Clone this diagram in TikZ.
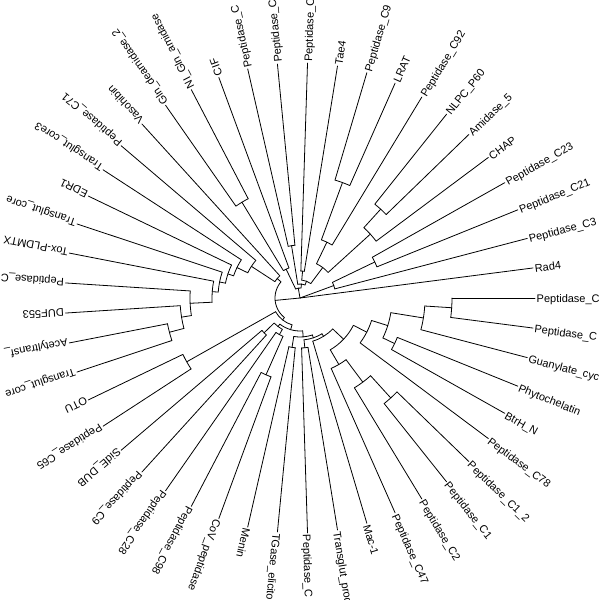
\documentclass[tikz,border=0pt]{standalone}
\usepackage{fontspec}
\setmainfont{Liberation Sans}
\usetikzlibrary{calc}
\newcommand\U{7.3469387755}
\makeatletter
\newcommand\tn[3]{%
  \expandafter\xdef\csname trA@#1\endcsname{#2}%
  \expandafter\xdef\csname trR@#1\endcsname{#3}%
  \coordinate (#1) at ({#2*\U}:#3);}
\newcommand\clade[3]{%
  \pgfmathsetmacro\ca{\csname trA@#2\endcsname*\U}%
  \pgfmathsetmacro\cb{\csname trA@#3\endcsname*\U}%
  \edef\pr{\csname trR@#1\endcsname}%
  \coordinate (#2f) at (\ca:\pr);
  \coordinate (#3f) at (\cb:\pr);
  \draw[branch] (#2f) arc[start angle=\ca, end angle=\cb, radius=\pr];
  \draw[branch] (#2f) -- (#2);
  \draw[branch] (#3f) -- (#3);}
\newcommand\leaf[3]{%
  \tn{#1}{#2}{235}%
  \node[lab, rotate=#2*\U] (#1t) at ($({#2*\U}:236.5)+({#2*\U-90}:4.6)$) {#3};}
\makeatother
\begin{document}
\begin{tikzpicture}[x=1pt,y=1pt,
  branch/.style={line width=0.8pt, line cap=round, line join=round},
  lab/.style={font=\fontsize{11}{13}\selectfont, anchor=base west, inner sep=0pt}]
\useasboundingbox (-300,-302) rectangle (300,298);
\fill[white] (-300,-302) rectangle (300,298);
\clip (-300,-302) rectangle (300,298);
% leaves
\leaf{L0}{49}{Peptidase\_C}
\leaf{L1}{1}{Rad4}
\leaf{L2}{2}{Peptidase\_C3}
\leaf{L3}{3}{Peptidase\_C21}
\leaf{L4}{4}{Peptidase\_C23}
\leaf{L5}{5}{CHAP}
\leaf{L6}{6}{Amidase\_5}
\leaf{L7}{7}{NLPC\_P60}
\leaf{L8}{8}{Peptidase\_C92}
\leaf{L9}{9}{LRAT}
\leaf{L10}{10}{Peptidase\_C9}
\leaf{L11}{11}{Tae4}
\leaf{L12}{12}{Peptidase\_C}
\leaf{L13}{13}{Peptidase\_C}
\leaf{L14}{14}{Peptidase\_C}
\leaf{L15}{15}{CIF}
\leaf{L16}{16}{NI\_Gln\_amidase}
\leaf{L17}{17}{Gln\_deamidase\_2}
\leaf{L18}{18}{Vasohibin}
\leaf{L19}{19}{Peptidase\_C71}
\leaf{L20}{20}{Transglut\_core3}
\leaf{L21}{21}{EDR1}
\leaf{L22}{22}{Transglut\_core}
\leaf{L23}{23}{Tox-PLDMTX}
\leaf{L24}{24}{Peptidase\_C}
\leaf{L25}{25}{DUF553}
\leaf{L26}{26}{Acetyltransf\_}
\leaf{L27}{27}{Transglut\_core}
\leaf{L28}{28}{OTU}
\leaf{L29}{29}{Peptidase\_C65}
\leaf{L30}{30}{SidE\_DUB}
\leaf{L31}{31}{Peptidase\_C9}
\leaf{L32}{32}{Peptidase\_C28}
\leaf{L33}{33}{Peptidase\_C98}
\leaf{L34}{34}{CoV\_peptidase}
\leaf{L35}{35}{Menin}
\leaf{L36}{36}{TGase\_elicitor}
\leaf{L37}{37}{Peptidase\_C}
\leaf{L38}{38}{Transglut\_prod}
\leaf{L39}{39}{Mac-1}
\leaf{L40}{40}{Peptidase\_C47}
\leaf{L41}{41}{Peptidase\_C2}
\leaf{L42}{42}{Peptidase\_C1}
\leaf{L43}{43}{Peptidase\_C1\_2}
\leaf{L44}{44}{Peptidase\_C78}
\leaf{L45}{45}{BtrH\_N}
\leaf{L46}{46}{Phytochelatin}
\leaf{L47}{47}{Guanylate\_cyc}
\leaf{L48}{48}{Peptidase\_C}
% internal nodes
\tn{A1}{3.5}{83} \clade{A1}{L3}{L4}
\tn{A2}{2.75}{36} \clade{A2}{L2}{A1}
\tn{B1}{6.5}{120} \clade{B1}{L6}{L7}
\tn{B2}{5.75}{95} \clade{B2}{L5}{B1}
\tn{C1}{9.5}{123} \clade{C1}{L9}{L10}
\tn{C2}{8.75}{62} \clade{C2}{L8}{C1}
\tn{D1}{7.25}{38} \clade{D1}{B2}{C2}
\tn{D2}{11.5}{27} \clade{D2}{L11}{L12}
\tn{D3}{9.375}{18} \clade{D3}{D1}{D2}
\tn{E1}{13.5}{53} \clade{E1}{L13}{L14}
\tn{D4}{11.4375}{14} \clade{D4}{D3}{E1}
\tn{F1}{16.5}{112} \clade{F1}{L16}{L17}
\tn{F2}{15.75}{32} \clade{F2}{L15}{F1}
\tn{D5}{13.59375}{10} \clade{D5}{D4}{F2}
\tn{G1}{26.5}{135} \clade{G1}{L26}{L27}
\tn{G2}{25.75}{120} \clade{G2}{L25}{G1}
\tn{G3}{24.875}{110} \clade{G3}{L24}{G2}
\tn{G4}{23.9375}{88} \clade{G4}{L23}{G3}
\tn{G5}{22.96875}{82} \clade{G5}{L22}{G4}
\tn{G6}{21.984375}{76} \clade{G6}{L21}{G5}
\tn{G7}{20.9921875}{70} \clade{G7}{L20}{G6}
\tn{G8}{19.99609375}{58} \clade{G8}{L19}{G7}
\tn{G9}{18.998046875}{30} \clade{G9}{L18}{G8}
\tn{H1}{28.5}{130} \clade{H1}{L28}{L29}
\tn{H2}{30.5}{50} \clade{H2}{L30}{L31}
\tn{H3}{33.5}{84} \clade{H3}{L33}{L34}
\tn{H4}{32.75}{42} \clade{H4}{L32}{H3}
\tn{H5}{31.625}{36} \clade{H5}{H2}{H4}
\tn{I1}{35.5}{50} \clade{I1}{L35}{L36}
\tn{I2}{37.5}{50} \clade{I2}{L37}{L38}
\tn{J1}{48.5}{152} \clade{J1}{L48}{L0}
\tn{J2}{47.75}{125} \clade{J2}{L47}{J1}
\tn{J3}{45.5}{105} \clade{J3}{L45}{L46}
\tn{J4}{46.625}{92} \clade{J4}{J3}{J2}
\tn{J5}{45.3125}{75} \clade{J5}{L44}{J4}
\tn{K1}{42.5}{135} \clade{K1}{L42}{L43}
\tn{K2}{41.75}{105} \clade{K2}{L41}{K1}
\tn{K3}{40.875}{77} \clade{K3}{L40}{K2}
\tn{K4}{43.09375}{60} \clade{K4}{K3}{J5}
\tn{K5}{41.046875}{45} \clade{K5}{L39}{K4}
\tn{K6}{39.2734375}{42} \clade{K6}{I2}{K5}
\tn{K7}{37.38671875}{39} \clade{K7}{I1}{K6}
\tn{H6}{34.505859375}{33} \clade{H6}{H5}{K7}
\tn{H7}{31.5029296875}{28} \clade{H7}{H1}{H6}
\tn{G10}{25.25048828125}{25} \clade{G10}{G9}{H7}
% root
\tn{R}{0}{0}
\draw[branch] (R) -- (L1);
\draw[branch] (R) -- (A2);
\draw[branch] (R) -- (D5);
\draw[branch] (R) -- (G10);
\end{tikzpicture}
\end{document}
